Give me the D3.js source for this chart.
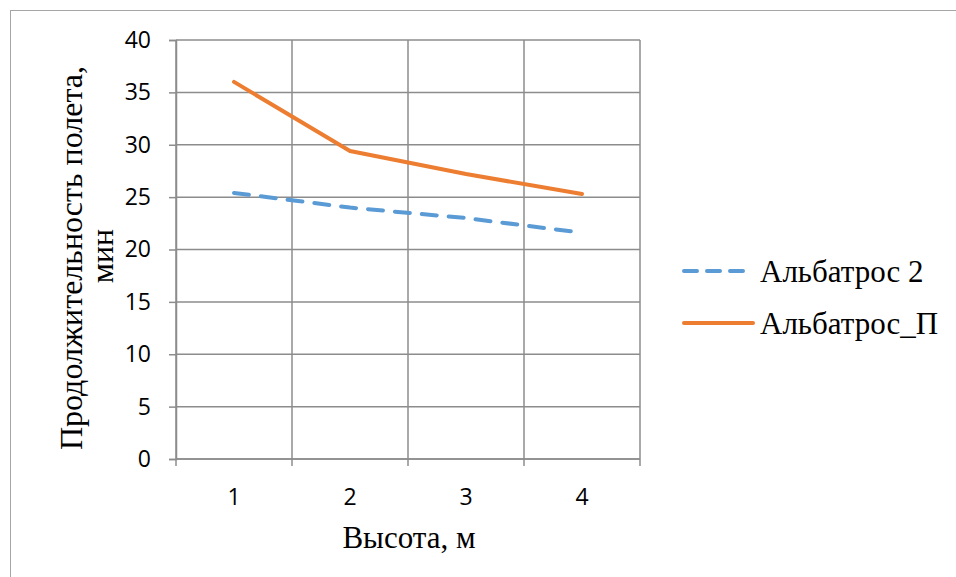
<!DOCTYPE html>
<html>
<head>
<meta charset="utf-8">
<script src="https://cdn.jsdelivr.net/npm/d3@7/dist/d3.min.js"></script>
<style>
  html, body { margin: 0; padding: 0; background: #fff; }
  svg { display: block; }
</style>
</head>
<body>
<svg id="chart" width="956" height="577"></svg>
<script>
// Flight duration vs. height for two aircraft variants
const heights = ["1", "2", "3", "4"];
const albatros2 = [25.4, 24.0, 23.0, 21.6];
const albatrosP = [36.0, 29.4, 27.2, 25.3];
const yTicks = [0, 5, 10, 15, 20, 25, 30, 35, 40];
const seriesNames = ["Альбатрос 2", "Альбатрос_П"];

const svg = d3.select("#chart");
const W = 956, H = 577;
const plot = { left: 176, right: 640, top: 40, bottom: 459 };
const gridColor = "#8c8c8c";
const tickFont = "'Open Sans', 'Liberation Sans', sans-serif";
const titleFont = "'Liberation Serif', 'Times New Roman', serif";

// outer frame
svg.append("rect")
  .attr("x", 10.5).attr("y", 10.5)
  .attr("width", W).attr("height", H)
  .attr("fill", "none").attr("stroke", "#a6a6a6").attr("stroke-width", 1);

const x = d3.scaleBand().domain(heights).range([plot.left, plot.right]).padding(0);
const y = d3.scaleLinear().domain([0, 40]).range([plot.bottom, plot.top]);

// horizontal gridlines
svg.append("g").selectAll("line").data(yTicks).join("line")
  .attr("x1", plot.left).attr("x2", plot.right)
  .attr("y1", d => y(d)).attr("y2", d => y(d))
  .attr("stroke", gridColor).attr("stroke-width", 1.5);

// vertical gridlines at category boundaries
const bounds = heights.map(h => x(h)).concat([plot.right]);
svg.append("g").selectAll("line").data(bounds).join("line")
  .attr("x1", d => d).attr("x2", d => d)
  .attr("y1", plot.top).attr("y2", plot.bottom)
  .attr("stroke", gridColor).attr("stroke-width", 1.5);

// y axis
const yAxis = d3.axisLeft(y).tickValues(yTicks).tickSize(7).tickPadding(18);
const gy = svg.append("g").attr("transform", `translate(${plot.left},0)`).call(yAxis);
gy.attr("font-size", null).attr("font-family", null);
gy.select(".domain").attr("stroke", gridColor).attr("stroke-width", 1.5);
gy.selectAll(".tick line").attr("stroke", gridColor).attr("stroke-width", 1.5);
gy.selectAll(".tick text")
  .style("font-family", tickFont)
  .style("font-size", "23px").attr("fill", "#000");

// x axis: tick marks at category boundaries, labels at centers
const gx = svg.append("g");
gx.append("line")
  .attr("x1", plot.left).attr("x2", plot.right)
  .attr("y1", plot.bottom).attr("y2", plot.bottom)
  .attr("stroke", gridColor).attr("stroke-width", 1.5);
gx.selectAll("line.tk").data(bounds).join("line").attr("class", "tk")
  .attr("x1", d => d).attr("x2", d => d)
  .attr("y1", plot.bottom).attr("y2", plot.bottom + 7)
  .attr("stroke", gridColor).attr("stroke-width", 1.5);
gx.selectAll("text").data(heights).join("text")
  .attr("x", d => x(d) + x.bandwidth() / 2)
  .attr("y", 505)
  .attr("text-anchor", "middle")
  .style("font-family", tickFont)
  .style("font-size", "23px").attr("fill", "#000")
  .text(d => d);

// axis titles
svg.append("text")
  .attr("x", 409).attr("y", 548)
  .attr("text-anchor", "middle")
  .style("font-family", titleFont)
  .style("font-size", "31px").attr("fill", "#000")
  .text("Высота, м");

const yTitle = svg.append("text")
  .attr("transform", "rotate(-90)")
  .attr("text-anchor", "middle")
  .style("font-family", titleFont)
  .style("font-size", "32px").attr("fill", "#000");
yTitle.append("tspan").attr("x", -258).attr("y", 82).text("Продолжительность полета,");
yTitle.append("tspan").attr("x", -256).attr("y", 113).text("мин");

// series lines
const line = d3.line()
  .x((d, i) => x(heights[i]) + x.bandwidth() / 2)
  .y(d => y(d));

svg.append("path").datum(albatros2)
  .attr("d", line).attr("fill", "none")
  .attr("stroke", "#5b9bd5").attr("stroke-width", 4)
  .attr("stroke-dasharray", "15,12").attr("stroke-linecap", "round");

svg.append("path").datum(albatrosP)
  .attr("d", line).attr("fill", "none")
  .attr("stroke", "#ed7d31").attr("stroke-width", 4)
  .attr("stroke-linecap", "round").attr("stroke-linejoin", "round");

// legend
const legend = [
  { name: seriesNames[0], color: "#5b9bd5", dash: "13,10", y: 271 },
  { name: seriesNames[1], color: "#ed7d31", dash: null, y: 323 }
];
const lg = svg.append("g");
legend.forEach(item => {
  lg.append("line")
    .attr("x1", 684).attr("x2", 753)
    .attr("y1", item.y).attr("y2", item.y)
    .attr("stroke", item.color).attr("stroke-width", 4)
    .attr("stroke-linecap", "round")
    .attr("stroke-dasharray", item.dash);
  lg.append("text")
    .attr("x", 760).attr("y", item.y + 11)
    .style("font-family", titleFont)
    .style("font-size", "31px").attr("fill", "#000")
    .text(item.name);
});
</script>
</body>
</html>
